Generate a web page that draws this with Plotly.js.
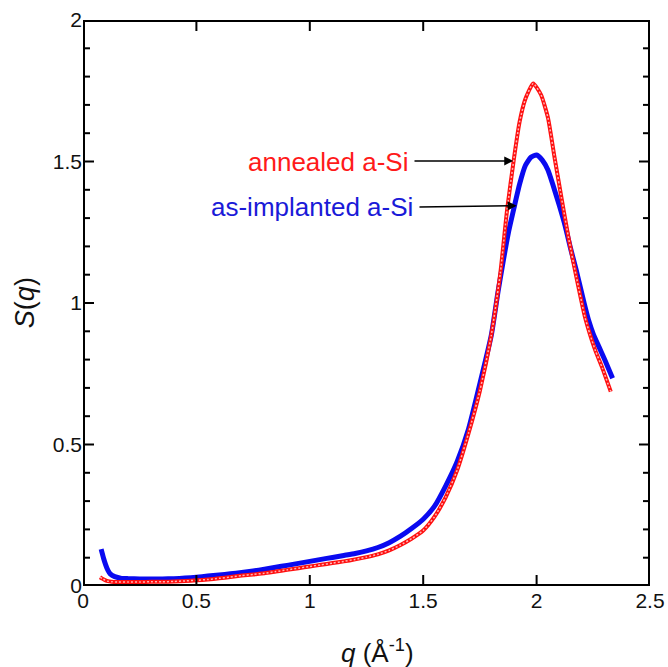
<!DOCTYPE html>
<html>
<head>
<meta charset="utf-8">
<script src="https://cdn.plot.ly/plotly-3.0.1.min.js"></script>
<style>html,body{margin:0;padding:0;background:#fff;}#chart{width:668px;height:667px;}</style>
</head>
<body>
<div id="chart"></div>
<script>
// as-implanted a-Si (blue)
const qImplanted = [0.08,0.09,0.10,0.11,0.12,0.14,0.17,0.20,0.25,0.30,0.35,0.40,0.45,0.50,0.55,0.60,0.65,0.70,0.75,0.80,0.85,0.90,0.95,1.00,1.05,1.10,1.15,1.20,1.25,1.30,1.35,1.40,1.45,1.50,1.55,1.60,1.65,1.70,1.75,1.80,1.83,1.85,1.875,1.90,1.925,1.95,1.975,2.00,2.025,2.05,2.075,2.10,2.125,2.15,2.175,2.19,2.21,2.23,2.25,2.275,2.30,2.335];
const sImplanted = [0.130,0.100,0.075,0.055,0.043,0.033,0.027,0.026,0.025,0.025,0.025,0.026,0.028,0.031,0.035,0.039,0.043,0.048,0.053,0.059,0.066,0.073,0.080,0.087,0.094,0.101,0.108,0.115,0.124,0.136,0.153,0.176,0.204,0.236,0.282,0.355,0.440,0.555,0.715,0.885,1.040,1.135,1.246,1.335,1.420,1.485,1.515,1.523,1.505,1.470,1.410,1.345,1.275,1.192,1.115,1.065,0.998,0.937,0.890,0.845,0.800,0.734];

// annealed a-Si (red)
const qAnnealed = [0.075,0.085,0.097,0.11,0.126,0.15,0.20,0.25,0.30,0.35,0.40,0.45,0.50,0.55,0.60,0.65,0.70,0.75,0.80,0.85,0.90,0.95,1.00,1.05,1.10,1.15,1.20,1.25,1.30,1.35,1.40,1.45,1.50,1.55,1.60,1.65,1.70,1.75,1.80,1.84,1.87,1.90,1.925,1.95,1.985,2.02,2.05,2.08,2.11,2.14,2.175,2.213,2.235,2.26,2.29,2.327];
const sAnnealed = [0.031,0.026,0.021,0.017,0.015,0.014,0.014,0.014,0.015,0.015,0.016,0.018,0.020,0.023,0.027,0.032,0.037,0.041,0.045,0.051,0.057,0.063,0.069,0.075,0.081,0.087,0.094,0.102,0.112,0.126,0.145,0.168,0.196,0.245,0.315,0.410,0.540,0.690,0.885,1.105,1.330,1.510,1.640,1.720,1.776,1.735,1.655,1.510,1.370,1.234,1.093,0.951,0.890,0.830,0.770,0.687];

const xTicks = [0, 0.5, 1, 1.5, 2, 2.5];
const xTickText = ['0', '0.5', '1', '1.5', '2', '2.5'];
const yTicks = [0, 0.5, 1, 1.5, 2];
const yTickText = ['0', '0.5', '1', '1.5', '2'];
const yMinorTicks = [0.1, 0.2, 0.3, 0.4, 0.6, 0.7, 0.8, 0.9, 1.1, 1.2, 1.3, 1.4, 1.6, 1.7, 1.8, 1.9];

const labelAnnealed = 'annealed a-Si';
const labelImplanted = 'as-implanted a-Si';
const xTitle = '<i>q</i> (Å<sup>-1</sup>)';
const yTitle = '<i>S</i>(<i>q</i>)';

const FONT = 'Liberation Sans, Arial, sans-serif';

const W = 668, H = 667;
const M = {l: 83, r: 18, t: 20, b: 81};
const xRange = [0, 2.5];
const yRange = [0, 2];
// pixel-to-data factors from the axis scales
const xPerPx = (xRange[1] - xRange[0]) / (W - M.l - M.r);
const yPerPx = (yRange[1] - yRange[0]) / (H - M.t - M.b);

// frame and tick marks, built from the tick arrays
const frameX = [xRange[0], xRange[1], xRange[1], xRange[0], xRange[0]];
const frameY = [yRange[0], yRange[0], yRange[1], yRange[1], yRange[0]];
const tickX = [], tickY = [];
xTicks.forEach(function (t) {
  tickX.push(t, t, null, t, t, null);
  tickY.push(yRange[0], yRange[0] + 11 * yPerPx, null, yRange[1], yRange[1] - 11 * yPerPx, null);
});
function yTick(t, len) {
  tickX.push(xRange[0], xRange[0] + len * xPerPx, null, xRange[1], xRange[1] - len * xPerPx, null);
  tickY.push(t, t, null, t, t, null);
}
yTicks.forEach(function (t) { yTick(t, 11); });
yMinorTicks.forEach(function (t) { yTick(t, 7); });

const traces = [
  {x: qImplanted, y: sImplanted, mode: 'lines', type: 'scatter', name: labelImplanted,
   line: {color: '#0a0af0', width: 5, shape: 'spline', smoothing: 0.5}},
  {x: qAnnealed, y: sAnnealed, mode: 'lines', type: 'scatter', name: labelAnnealed,
   line: {color: '#ff1010', width: 4, shape: 'spline', smoothing: 0.5}},
  {x: qAnnealed, y: sAnnealed, mode: 'lines', type: 'scatter', hoverinfo: 'skip', showlegend: false,
   line: {color: '#ffb4b4', width: 1.5, dash: '2px,2px', shape: 'spline', smoothing: 0.5}},
  {x: frameX, y: frameY, mode: 'lines', type: 'scatter', hoverinfo: 'skip', showlegend: false,
   line: {color: '#000', width: 4}},
  {x: tickX, y: tickY, mode: 'lines', type: 'scatter', hoverinfo: 'skip', showlegend: false, connectgaps: false,
   line: {color: '#000', width: 2}}
];

const layout = {
  width: W, height: H,
  margin: M,
  paper_bgcolor: '#fff', plot_bgcolor: '#fff',
  showlegend: false,
  xaxis: {
    range: xRange, tickmode: 'array', tickvals: xTicks, ticktext: xTickText,
    showline: false, ticks: '', showgrid: false, zeroline: false,
    tickfont: {family: FONT, size: 21, color: '#111'}
  },
  yaxis: {
    range: yRange, tickmode: 'array', tickvals: yTicks, ticktext: yTickText,
    showline: false, ticks: '', showgrid: false, zeroline: false,
    tickfont: {family: FONT, size: 21, color: '#111'}
  },
  annotations: [
    {xref: 'paper', yref: 'paper', x: 0.52, y: -0.115, text: xTitle, showarrow: false,
     xanchor: 'center', yanchor: 'middle', font: {family: FONT, size: 26, color: '#111'}},
    {xref: 'paper', yref: 'paper', x: -0.102, y: 0.5, text: yTitle, showarrow: false, textangle: -90,
     xanchor: 'center', yanchor: 'middle', font: {family: FONT, size: 27, color: '#111'}},
    {x: 1.442, y: 1.498, xref: 'x', yref: 'y', text: labelAnnealed, showarrow: false,
     xanchor: 'right', yanchor: 'middle', font: {family: FONT, size: 26, color: '#ff1a1a'}},
    {x: 1.464, y: 1.339, xref: 'x', yref: 'y', text: labelImplanted, showarrow: false,
     xanchor: 'right', yanchor: 'middle', font: {family: FONT, size: 26, color: '#1a1ad8'}},
    {x: 1.897, y: 1.502, ax: 1.455, ay: 1.502, xref: 'x', yref: 'y', axref: 'x', ayref: 'y',
     text: '', showarrow: true, arrowhead: 2, arrowsize: 1.2, arrowwidth: 1.5, arrowcolor: '#000'},
    {x: 1.912, y: 1.344, ax: 1.477, ay: 1.339, xref: 'x', yref: 'y', axref: 'x', ayref: 'y',
     text: '', showarrow: true, arrowhead: 2, arrowsize: 1.2, arrowwidth: 1.5, arrowcolor: '#000'}
  ]
};

Plotly.newPlot('chart', traces, layout, {displayModeBar: false});
</script>
</body>
</html>
